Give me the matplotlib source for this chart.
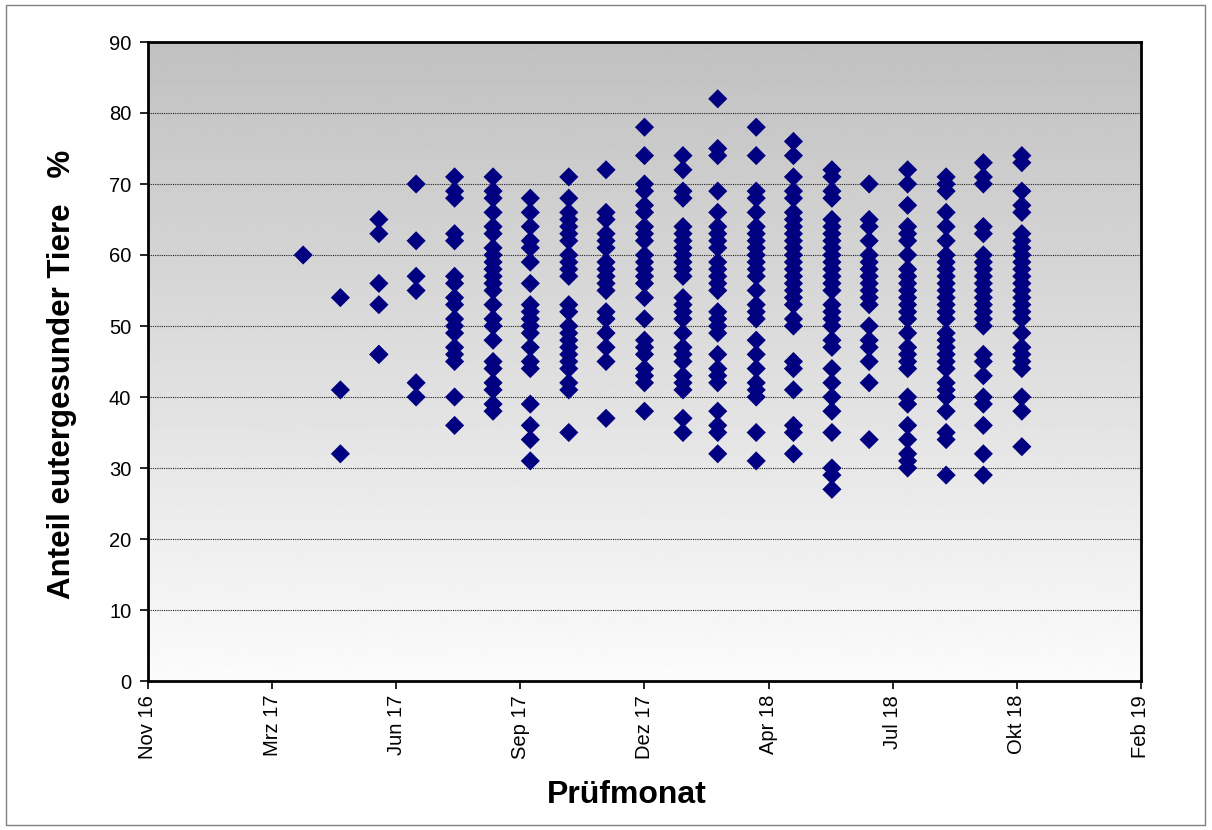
import datetime as dt
import numpy as np
import matplotlib
matplotlib.use("Agg")
import matplotlib.pyplot as plt
import matplotlib.dates as mdates
from matplotlib.ticker import FuncFormatter, MultipleLocator
from matplotlib.patches import Rectangle

plt.rcParams['font.family'] = ['Liberation Sans', 'DejaVu Sans']

# test month (last day of month) -> share of healthy udders per herd, %
months = ["2017-03-31", "2017-04-30", "2017-05-31", "2017-06-30", "2017-07-31",
          "2017-08-31", "2017-09-30", "2017-10-31", "2017-11-30", "2017-12-31",
          "2018-01-31", "2018-02-28", "2018-03-31", "2018-04-30", "2018-05-31",
          "2018-06-30", "2018-07-31", "2018-08-31", "2018-09-30", "2018-10-31"]

values = [
    [60],
    [54, 41, 32],
    [65, 63, 56, 53, 46, 46],
    [70, 62, 57, 55, 42, 40],
    [71, 69, 68, 63, 62, 57, 56, 54, 53, 51, 50, 49, 47, 46, 45, 40, 36],
    [71, 69, 68, 66, 64, 63, 61, 60, 59, 58, 57, 56, 55, 53, 51, 50, 48,
     45, 44, 42, 41, 39, 38],
    [68, 66, 64, 62, 61, 59, 56, 53, 52, 51, 50, 49, 47, 45, 44, 39, 36, 34, 31],
    [71, 68, 66, 65, 64, 63, 62, 60, 59, 58, 57, 53, 52, 50, 49, 48, 47,
     46, 45, 44, 42, 41, 35],
    [72, 66, 65, 63, 62, 61, 59, 58, 57, 56, 55, 52, 51, 49, 47, 45, 37],
    [78, 74, 70, 69, 67, 66, 64, 63, 62, 60, 59, 58, 57, 56, 54, 51, 48,
     47, 46, 44, 43, 42, 38],
    [74, 72, 69, 68, 64, 63, 62, 61, 60, 59, 58, 57, 54, 53, 52, 51, 49,
     47, 46, 45, 43, 42, 41, 37, 35],
    [82, 75, 74, 69, 66, 64, 63, 62, 61, 59, 58, 57, 56, 55, 52, 51, 50,
     49, 46, 44, 43, 42, 38, 36, 35, 32],
    [78, 74, 69, 68, 66, 64, 63, 62, 61, 60, 59, 58, 57, 55, 53, 52, 51,
     48, 46, 44, 42, 41, 40, 35, 31],
    [76, 74, 71, 69, 68, 66, 65, 64, 63, 62, 61, 60, 59, 58, 57, 56, 55,
     54, 53, 51, 50, 45, 44, 41, 36, 35, 32],
    [72, 71, 69, 68, 65, 64, 63, 62, 61, 60, 59, 58, 57, 56, 55, 53, 52,
     51, 50, 48, 47, 44, 42, 40, 38, 35, 30, 29, 27],
    [70, 65, 64, 62, 60, 59, 58, 57, 56, 55, 54, 53, 50, 48, 47, 45, 42, 34],
    [72, 70, 67, 64, 63, 62, 60, 58, 57, 56, 55, 54, 53, 52, 51, 49, 47,
     46, 45, 44, 40, 39, 36, 34, 32, 31, 30],
    [71, 70, 69, 66, 64, 62, 60, 59, 58, 57, 56, 55, 54, 53, 52, 51, 49,
     48, 47, 46, 45, 44, 42, 41, 40, 38, 35, 34, 29],
    [73, 71, 70, 64, 63, 60, 59, 58, 57, 56, 55, 54, 53, 52, 51, 50, 46,
     45, 43, 40, 39, 36, 32, 29],
    [74, 73, 69, 67, 66, 63, 62, 61, 60, 59, 58, 57, 56, 55, 54, 53, 52,
     51, 49, 47, 46, 45, 44, 40, 38, 33],
]

x_start = dt.date(2016, 11, 26)
x_step_days = 100
x_steps = 8
month_names = ["Jan", "Feb", "Mrz", "Apr", "Mai", "Jun",
               "Jul", "Aug", "Sep", "Okt", "Nov", "Dez"]

xs, ys = [], []
for m, vals in zip(months, values):
    d = dt.date.fromisoformat(m)
    for v in vals:
        xs.append(d)
        ys.append(v)

fig = plt.figure(figsize=(12.12, 8.3), dpi=100)
ax = fig.add_axes([148 / 1212, 1 - 681 / 830, (1141 - 148) / 1212, (681 - 42) / 830])

# grey (top) to white (bottom) plot area fill; row 0 is the bottom edge
grad = np.linspace(0.985, 0.755, 256).reshape(-1, 1)
ax.imshow(grad, cmap="gray", vmin=0, vmax=1, aspect="auto", origin="lower",
          extent=[0, 1, 0, 1], transform=ax.transAxes, zorder=0)

ax.scatter(xs, ys, marker="D", s=95, color="#000080", edgecolors="none", zorder=3)

x0 = mdates.date2num(x_start)
ax.set_xlim(x0, x0 + x_step_days * x_steps)
ax.set_ylim(0, 90)
ax.xaxis.set_major_locator(MultipleLocator(x_step_days, offset=x0 % x_step_days))
ax.xaxis.set_major_formatter(FuncFormatter(
    lambda v, p: "%s %02d" % (month_names[mdates.num2date(v).month - 1],
                              mdates.num2date(v).year % 100)))
ax.yaxis.set_major_locator(MultipleLocator(10))

ax.grid(axis="y", color="#202020", linestyle=(0, (1, 1)), linewidth=0.8, zorder=1)
ax.set_axisbelow(True)

for s in ax.spines.values():
    s.set_linewidth(2)
    s.set_color("black")
ax.tick_params(axis="both", direction="out", length=6, width=1.2,
               labelsize=14.5, colors="black")
ax.tick_params(axis="x", labelrotation=90, pad=4)
ax.tick_params(axis="y", pad=6)

fig.text(62 / 1212, 1 - 374 / 830, "Anteil eutergesunder Tiere   %",
         rotation=90, ha="center", va="center", fontsize=22.5, fontweight="bold")
fig.text(627 / 1212, 1 - 795 / 830, "Prüfmonat",
         ha="center", va="center", fontsize=23, fontweight="bold")

fig.patches.append(Rectangle((6 / 1212, 5 / 830), 1199 / 1212, 820 / 830,
                             transform=fig.transFigure, fill=False,
                             edgecolor="#808080", linewidth=1))

fig.savefig("out.png", dpi=100)
